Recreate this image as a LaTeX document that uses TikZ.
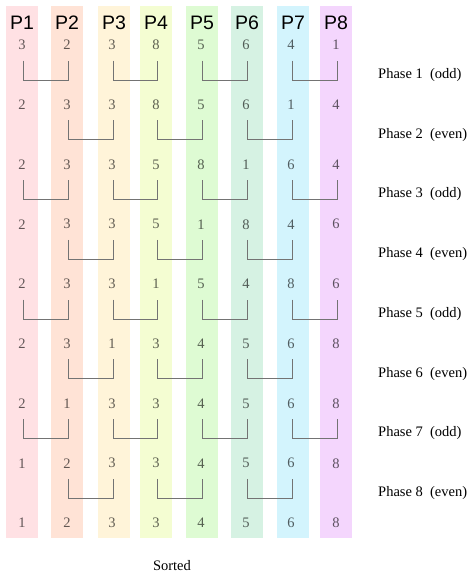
\documentclass[tikz,border=0pt]{standalone}
\usepackage{fontspec}
\setmainfont{Liberation Serif}
\newfontfamily\headfont{Liberation Sans}

\definecolor{pone}{HTML}{FFE1E4}
\definecolor{ptwo}{HTML}{FFE3D6}
\definecolor{pthree}{HTML}{FFF4D9}
\definecolor{pfour}{HTML}{F4FDD2}
\definecolor{pfive}{HTML}{DEFBD3}
\definecolor{psix}{HTML}{D6F2E3}
\definecolor{pseven}{HTML}{D3F4FD}
\definecolor{peight}{HTML}{F4D6FD}

\tikzset{
	stripe/.style={rectangle, inner sep=0pt, minimum width=32pt, minimum height=532pt},
	head/.style={font=\headfont\fontsize{19.5}{22}\selectfont, inner sep=0pt},
	val/.style={font=\fontsize{14.5}{16}\selectfont, text opacity=0.62, inner sep=1pt},
	phase/.style={anchor=west, font=\fontsize{14.5}{16}\selectfont, inner sep=0pt},
	swapline/.style={draw=black!55, line width=1pt},
}

\begin{document}
\begin{tikzpicture}[x=1pt, y=-1pt]
	\useasboundingbox (0,0) rectangle (472,574);

	% processor columns
	\foreach \x/\col [count=\c] in {22/pone,67/ptwo,114/pthree,156/pfour,202/pfive,247/psix,293/pseven,336/peight} {
		\node[stripe, fill=\col] (s\c) at (\x,272) {};
		\node[head] (p\c) at (\x,23) {P\c};
	}

	% values after each phase
	\foreach \vals [count=\r] in {{3,2,3,8,5,6,4,1},{2,3,3,8,5,6,1,4},{2,3,3,5,8,1,6,4},{2,3,3,5,1,8,4,6},{2,3,3,1,5,4,8,6},{2,3,1,3,4,5,6,8},{2,1,3,3,4,5,6,8},{1,2,3,3,4,5,6,8},{1,2,3,3,4,5,6,8}} {
		\pgfmathsetmacro\yy{45+59.75*(\r-1)}
		\foreach \x [count=\c] in {22,67,112,156,201,246,291,336} {
			\pgfmathtruncatemacro\v{{\vals}[\c-1]}
			\node[val] (n\r-\c) at (\x,\yy) {\v};
		}
	}

	% compare-exchange brackets
	\foreach \r in {1,3,5,7}
		\foreach \a/\b in {1/2,3/4,5/6,7/8}
			\draw[swapline] ([shift={(1.5,15.5)}]n\r-\a.center) -- ++(0,19.5) -| ([shift={(1.5,15.5)}]n\r-\b.center);
	\foreach \r in {2,4,6,8}
		\foreach \a/\b in {2/3,4/5,6/7}
			\draw[swapline] ([shift={(1.5,15.5)}]n\r-\a.center) -- ++(0,19.5) -| ([shift={(1.5,15.5)}]n\r-\b.center);

	% phase labels
	\foreach \r/\kind in {1/odd,2/even,3/odd,4/even,5/odd,6/even,7/odd,8/even}
		\node[phase] (ph\r) at (378,{45+59.75*(\r-0.5)}) {Phase \r\ \ (\kind)};

	\node[phase, anchor=center] (sorted) at (172,566) {Sorted};

\end{tikzpicture}
\end{document}
